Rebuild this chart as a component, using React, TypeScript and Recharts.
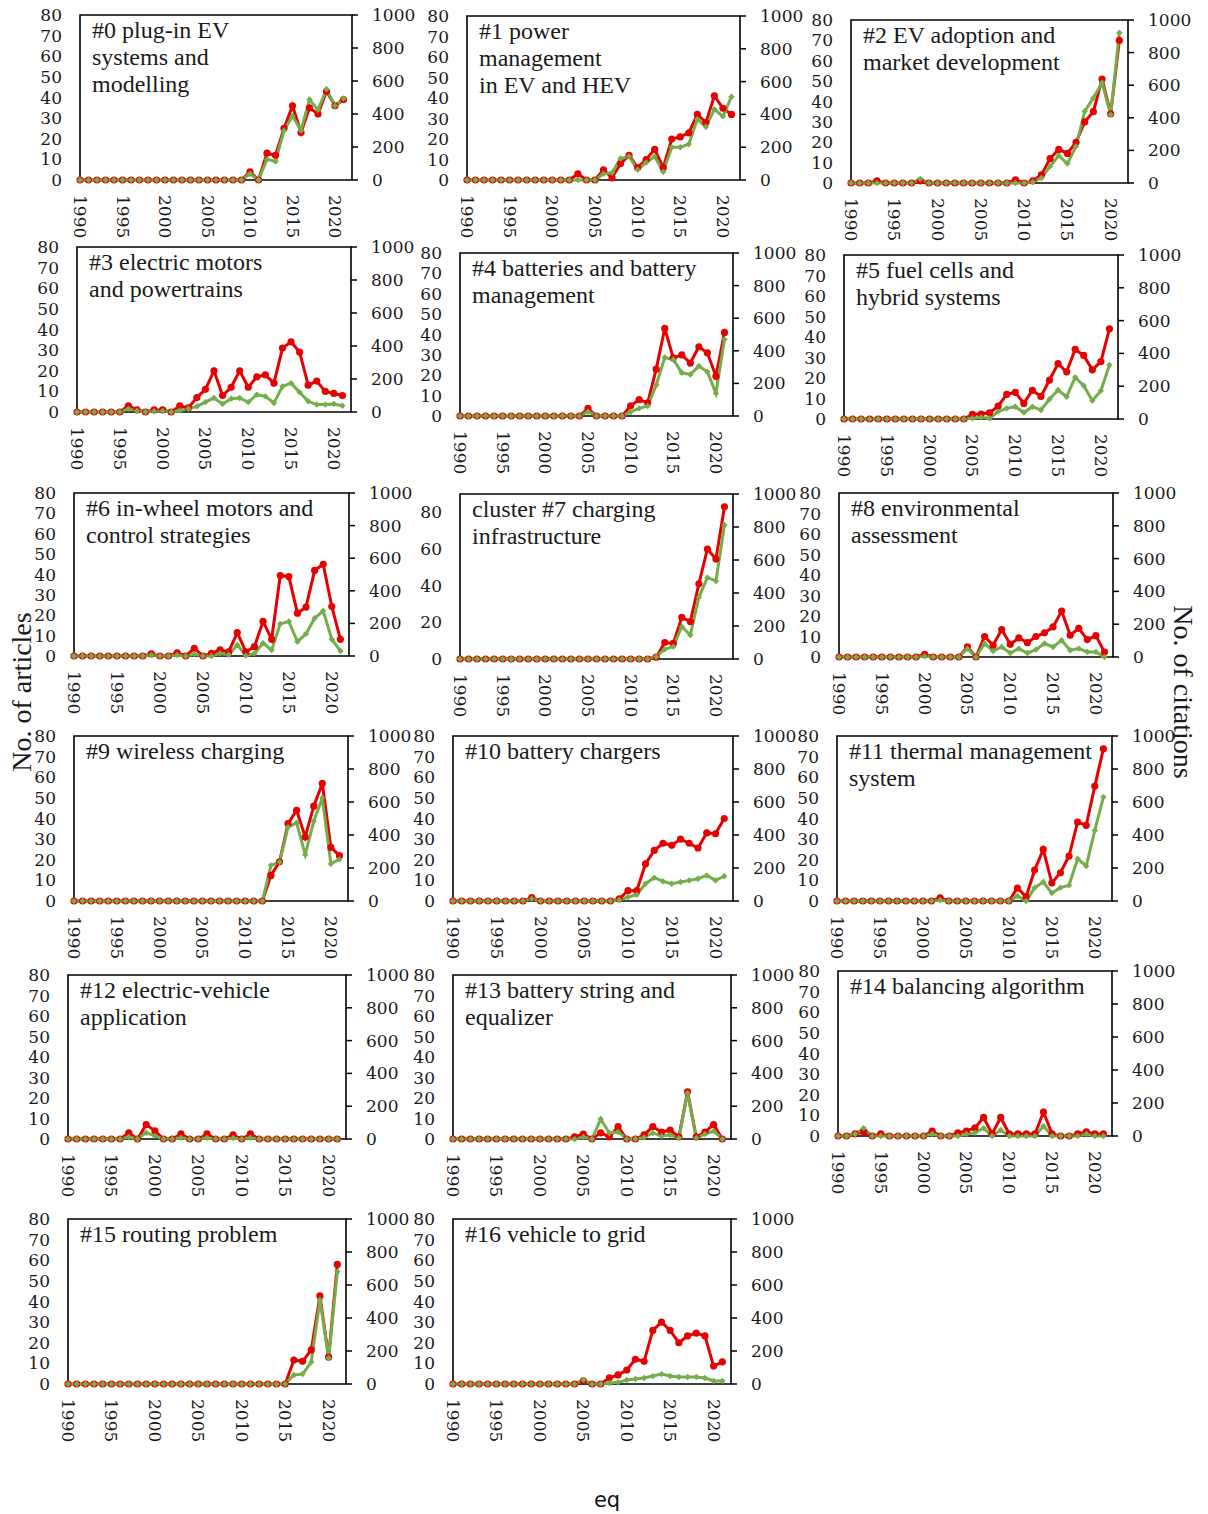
import { LineChart, Line, XAxis, YAxis, ReferenceArea } from "recharts";

const YEARS = [
  1990, 1991, 1992, 1993, 1994, 1995, 1996, 1997, 1998, 1999, 2000, 2001, 2002, 2003, 2004, 2005,
  2006, 2007, 2008, 2009, 2010, 2011, 2012, 2013, 2014, 2015, 2016, 2017, 2018, 2019, 2020, 2021
];
const YEAR_TICKS = [1990, 1995, 2000, 2005, 2010, 2015, 2020];
const ARTICLE_TICKS = [0, 10, 20, 30, 40, 50, 60, 70, 80];
const ARTICLE_TICKS_WIDE = [0, 20, 40, 60, 80];
const CITATION_TICKS = [0, 200, 400, 600, 800, 1000];

const TITLES = [
  ["#0 plug-in EV", "systems and", "modelling"],
  ["#1 power", "management", "in EV and HEV"],
  ["#2 EV adoption and", "market development"],
  ["#3 electric motors", "and powertrains"],
  ["#4 batteries and battery", "management"],
  ["#5 fuel cells and", "hybrid systems"],
  ["#6 in-wheel motors and", "control strategies"],
  ["cluster #7 charging", "infrastructure"],
  ["#8 environmental", "assessment"],
  ["#9 wireless charging"],
  ["#10 battery chargers"],
  ["#11 thermal management", "system"],
  ["#12 electric-vehicle", "application"],
  ["#13 battery string and", "equalizer"],
  ["#14 balancing algorithm"],
  ["#15 routing problem"],
  ["#16 vehicle to grid"]
];

// red series, left axis (No. of articles)
const ARTICLES = [
  [0,0,0,0,0,0,0,0,0,0,0,0,0,0,0,0,0,0,0,0, 4,0,13,12,25,36,23,35,32,43,36,39],
  [0,0,0,0,0,0,0,0,0,0,0,0,0, 3,0,0,5,1,8,12,6,10,15,6,20,21,23,32,28,41,35,32],
  [0,0,0,1,0,0,0,0,1,0, 0,0,0,0,0,0,0,0,0, 1.5,0,1,4,12,16.5,14.5,20,30,35,51,34,70],
  [0,0,0,0,0,0, 3,1,0,1,1,0,3,2,7,11,20,8,12,20,12,17,18,14,31,34,29,13,15,10,9,8],
  [0,0,0,0,0,0,0,0,0,0,0,0,0,0,0, 3.7,0,0,0,0, 5,8,6.5,23,43,28.5,30,26,34,31,19.5,41],
  [0,0,0,0,0,0,0,0,0,0,0,0,0,0,0, 2.3,2.4,3,6.3,12,13,7.6,14,11,19,27,23,34,31,24,28,44],
  [0,0,0,0,0,0,0,0,0, 1,0,0,1.6,0,3.8,0,1.3,3,2,11.5,2,4.6,17,8.2,39.5,39,21,24,42,45,24.3,8.2],
  [0,0,0,0,0,0,0,0,0,0,0,0,0,0,0,0,0,0,0,0,0,0,0, 1,9,8.5,22.7,20.4,41,60,54.5,83],
  [0,0,0,0,0,0,0,0,0,0, 1.3,0,0,0,0, 5,0,10,5.7,13.4,6.2,9.3,7,10,11.8,14.7,22.4,10.6,14,8.5,10.4,2.4],
  [0,0,0,0,0,0,0,0,0,0,0,0,0,0,0,0,0,0,0,0,0,0,0, 12.4,19,37.5,44,31,46,57,26,22],
  [0,0,0,0,0,0,0,0,0, 1.6, 0,0,0,0,0,0,0,0,0, 1,5,5,18,24.5,28,27,30,28,25.7,33,32.6,40],
  [0,0,0,0,0,0,0,0,0,0,0,0, 1.5, 0,0,0,0,0,0,0,0, 6.3,2,15,25,8.7,13.7,21.8,38.3,36.7,55.7,73.8],
  [0,0,0,0,0,0,0, 3,0,7,4,0,0,2.5,0,0,2.5,0,0,2,0,2.5, 0,0,0,0,0,0,0,0,0,0],
  [0,0,0,0,0,0,0,0,0,0,0,0,0,0, 1,2.4,0,3,1,6,0,0,2,6,3.4,4.4,1,23,1,3.4,7,0],
  [0,0,1,2,0,1,0,0,0,0,0,2.4,0,0,1.5,2.4,4,9,1,9,1,1,1,1,11.6,1,0,0,1,2,1,1],
  [0,0,0,0,0,0,0,0,0,0,0,0,0,0,0,0,0,0,0,0,0,0,0,0,0,0, 11.6,11,16.5,42.7,13,58],
  [0,0,0,0,0,0,0,0,0,0,0,0,0,0,0, 1.5,0,0,3,4.4,6.8,12,11,26,30,26,20,23.3,24.7,23.3,8.7,10.7]
];

// green series, right axis (No. of citations)
const CITATIONS = [
  [0,0,0,0,0,0,0,0,0,0,0,0,0,0,0,0,0,0,0,0, 38,0,125,112,300,388,300,488,425,550,450,494],
  [0,0,0,0,0,0,0,0,0,0,0,0,0, 0,0,0,38,44,131,143,63,106,143,50,200,200,219,370,325,431,388,508],
  [0,0,0,0,0,0,0,0,25,0, 0,0,0,0,0,0,0,0,0, 0,0,6,31,102,168,119,225,440,522,615,420,922],
  [0,0,0,0,0,0, 19,8,0,5,6,0,9,20,34,60,85,49,81,85,60,105,95,55,155,175,119,65,45,45,49,38],
  [0,0,0,0,0,0,0,0,0,0,0,0,0,0,0, 26,0,0,0,0, 25,47,61,190,359,347,265,255,306,271,139,470],
  [0,0,0,0,0,0,0,0,0,0,0,0,0,0,0, 4,10,4,45,65,75,39,75,55,120,177,136,254,203,112,173,329],
  [0,0,0,0,0,0,0,0,0, 6,0,0,6,0,12,0,0,16,8,68,2,16,78,37,197,212,88,136,232,277,103,31],
  [0,0,0,0,0,0,0,0,0,0,0,0,0,0,0,0,0,0,0,0,0,0,0, 14,59,75,196,145,374,493,473,812],
  [0,0,0,0,0,0,0,0,0,0, 4,0,0,0,0, 51,0,82,37,61,24,51,24,45,82,61,102,41,51,31,31,0],
  [0,0,0,0,0,0,0,0,0,0,0,0,0,0,0,0,0,0,0,0,0,0,0, 216,236,448,474,281,483,624,226,252],
  [0,0,0,0,0,0,0,0,0, 14, 0,0,0,0,0,0,0,0,0, 6,24,38,105,141,119,105,115,125,135,155,125,150],
  [0,0,0,0,0,0,0,0,0,0,0,0, 6, 0,0,0,0,0,0,0,0, 30,0,81,115,48,81,95,256,212,428,630],
  [0,0,0,0,0,0,0, 12,0,38,19,0,0,8,0,0,8,0,0,6,0,8, 0,0,0,0,0,0,0,0,0,0],
  [0,0,0,0,0,0,0,0,0,0,0,0,0,0, 0,12,0,122,37,43,0,0,10,37,18,24,6,280,6,30,49,0],
  [0,0,12,48,0,0,0,0,0,0,0,12,0,0,0,12,20,48,0,36,0,0,0,0,60,0,0,0,0,12,0,0],
  [0,0,0,0,0,0,0,0,0,0,0,0,0,0,0,0,0,0,0,0,0,0,0,0,0,0, 55,60,133,510,158,680],
  [0,0,0,0,0,0,0,0,0,0,0,0,0,0,0, 25,0,0,6,10,24,30,36,48,60,48,42,42,42,36,18,18]
];

// plot-box placement of each panel on the page
const BOXES = [
  { x: 80, y: 15, w: 272, h: 165 },
  { x: 467, y: 16, w: 273, h: 164 },
  { x: 851, y: 20, w: 277, h: 163 },
  { x: 77, y: 247, w: 274, h: 165 },
  { x: 460, y: 253, w: 273, h: 163 },
  { x: 844, y: 255, w: 274, h: 164 },
  { x: 74, y: 493, w: 275, h: 163 },
  { x: 460, y: 494, w: 273, h: 165 },
  { x: 839, y: 493, w: 274, h: 164 },
  { x: 74, y: 736, w: 274, h: 165 },
  { x: 453, y: 736, w: 280, h: 165 },
  { x: 837, y: 736, w: 275, h: 165 },
  { x: 68, y: 975, w: 278, h: 164 },
  { x: 453, y: 975, w: 278, h: 164 },
  { x: 838, y: 971, w: 274, h: 165 },
  { x: 68, y: 1219, w: 278, h: 165 },
  { x: 453, y: 1219, w: 278, h: 165 }
];

const RED = "#e60000";
const GREEN = "#74ad4a";
const TICK_FONT = { fontFamily: "DejaVu Serif", fontSize: 17, fill: "#1a1a1a" };
const ML = 70;
const MR = 80;
const MT = 10;
const MB = 65;

function YearTick(props: any) {
  const { x, y, payload } = props;
  return (
    <text
      x={x}
      y={y}
      transform={`rotate(90 ${x} ${y})`}
      textAnchor="start"
      dominantBaseline="central"
      {...TICK_FONT}
    >
      {payload.value}
    </text>
  );
}

function Diamond(props: any) {
  const { cx, cy, index } = props;
  if (cx == null || cy == null) return <g key={index} />;
  const s = 3.2;
  return (
    <polygon
      key={index}
      points={`${cx},${cy - s} ${cx + s},${cy} ${cx},${cy + s} ${cx - s},${cy}`}
      fill={GREEN}
    />
  );
}

function Panel({ idx }: { idx: number }) {
  const box = BOXES[idx];
  const wide = idx === 7;
  const leftMax = wide ? 90 : 80;
  const data = YEARS.map((year, i) => ({
    year,
    articles: ARTICLES[idx][i],
    citations: CITATIONS[idx][i]
  }));

  return (
    <div style={{ position: "absolute", left: box.x - ML, top: box.y - MT }}>
      <LineChart
        width={box.w + ML + MR}
        height={box.h + MT + MB}
        data={data}
        margin={{ top: MT, right: 0, left: 0, bottom: 0 }}
      >
        <XAxis
          dataKey="year"
          type="number"
          domain={[1990, 2022]}
          ticks={YEAR_TICKS}
          interval={0}
          height={MB}
          axisLine={false}
          tickLine={false}
          tickSize={6}
          tickMargin={9}
          tick={<YearTick />}
        />
        <YAxis
          yAxisId="l"
          width={ML}
          domain={[0, leftMax]}
          ticks={wide ? ARTICLE_TICKS_WIDE : ARTICLE_TICKS}
          interval={0}
          axisLine={false}
          tickLine={false}
          tickSize={6}
          tickMargin={12}
          tick={TICK_FONT}
        />
        <YAxis
          yAxisId="r"
          orientation="right"
          width={MR}
          domain={[0, 1000]}
          ticks={CITATION_TICKS}
          interval={0}
          axisLine={false}
          tickLine={{ stroke: "#000", strokeWidth: 1.5 }}
          tickSize={6}
          tickMargin={14}
          tick={TICK_FONT}
        />
        <ReferenceArea
          yAxisId="l"
          x1={1990}
          x2={2022}
          y1={0}
          y2={leftMax}
          fill="none"
          stroke="#000"
          strokeWidth={1.6}
          ifOverflow="visible"
        />
        <Line
          yAxisId="l"
          dataKey="articles"
          stroke={RED}
          strokeWidth={3}
          dot={{ r: 3.6, fill: RED, stroke: RED, strokeWidth: 0 }}
          isAnimationActive={false}
        />
        <Line
          yAxisId="r"
          dataKey="citations"
          stroke={GREEN}
          strokeWidth={3}
          dot={<Diamond />}
          isAnimationActive={false}
        />
      </LineChart>
      <div
        style={{
          position: "absolute",
          left: ML + 12,
          top: MT + 2,
          fontFamily: "Liberation Serif",
          fontSize: 24,
          lineHeight: "27px",
          color: "#1a1a1a",
          whiteSpace: "nowrap"
        }}
      >
        {TITLES[idx].map((line) => (
          <div key={line}>{line}</div>
        ))}
      </div>
    </div>
  );
}

export default function App() {
  return (
    <div
      style={{
        position: "absolute",
        left: 0,
        top: 0,
        width: 1208,
        height: 1514,
        background: "#fff",
        overflow: "hidden"
      }}
    >
      {BOXES.map((_, i) => (
        <Panel key={i} idx={i} />
      ))}
      <div
        style={{
          position: "absolute",
          left: 22,
          top: 692,
          transform: "translate(-50%, -50%) rotate(-90deg)",
          fontFamily: "Liberation Serif",
          fontSize: 28,
          whiteSpace: "nowrap",
          color: "#1a1a1a"
        }}
      >
        No. of articles
      </div>
      <div
        style={{
          position: "absolute",
          left: 1183,
          top: 692,
          transform: "translate(-50%, -50%) rotate(90deg)",
          fontFamily: "Liberation Serif",
          fontSize: 28,
          whiteSpace: "nowrap",
          color: "#1a1a1a"
        }}
      >
        No. of citations
      </div>
      <div
        style={{
          position: "absolute",
          left: 607,
          top: 1500,
          transform: "translate(-50%, -50%)",
          fontFamily: "DejaVu Sans",
          fontSize: 21,
          color: "#111"
        }}
      >
        eq
      </div>
    </div>
  );
}
